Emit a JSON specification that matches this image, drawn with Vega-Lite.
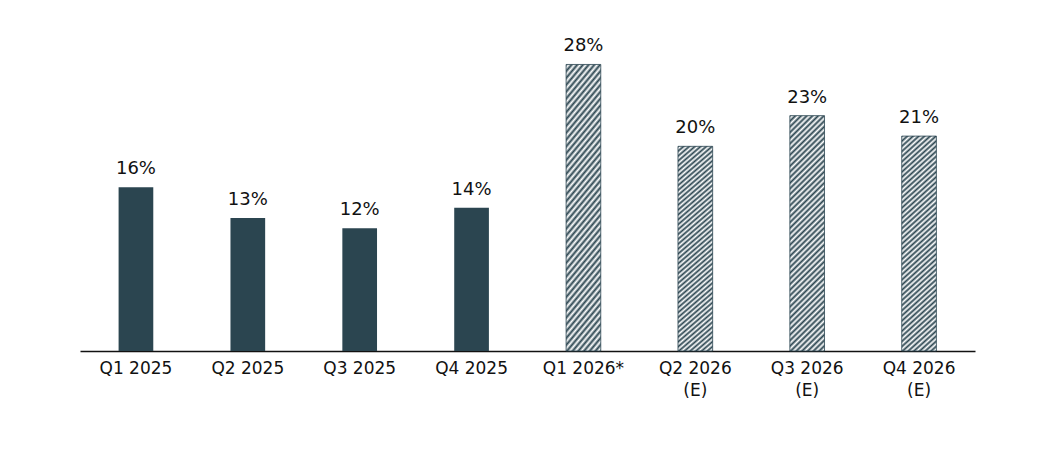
{
  "$schema": "https://vega.github.io/schema/vega-lite/v6.json",
  "width": 895,
  "height": 307,
  "autosize": "none",
  "padding": {"left": 80, "top": 44, "right": 87, "bottom": 105},
  "background": "white",
  "config": {"view": {"stroke": null}, "font": "DejaVu Sans"},
  "data": {
    "values": [
      {"q": "Q1 2025", "v": 16, "kind": "actual"},
      {"q": "Q2 2025", "v": 13, "kind": "actual"},
      {"q": "Q3 2025", "v": 12, "kind": "actual"},
      {"q": "Q4 2025", "v": 14, "kind": "actual"},
      {"q": "Q1 2026*", "v": 28, "kind": "est"},
      {"q": "Q2 2026\n(E)", "v": 20, "kind": "est"},
      {"q": "Q3 2026\n(E)", "v": 23, "kind": "est"},
      {"q": "Q4 2026\n(E)", "v": 21, "kind": "est"}
    ]
  },
  "encoding": {
    "x": {
      "field": "q", "type": "nominal", "sort": null, "title": null,
      "scale": {"paddingInner": 0.69, "paddingOuter": 0.345},
      "axis": {"labelAngle": 0, "labelFontSize": 17, "labelColor": "#111", "ticks": false, "domainColor": "#111", "domainWidth": 1.5, "labelPadding": 9, "labelExpr": "split(datum.label, '\\n')", "labelLineHeight": 22}
    },
    "y": {"field": "v", "type": "quantitative", "scale": {"domain": [0, 30]}, "axis": null}
  },
  "layer": [
    {
      "transform": [{"filter": "datum.kind == 'actual'"}],
      "mark": {"type": "bar", "color": "#2b4550"}
    },
    {
      "transform": [{"filter": "datum.kind == 'est'"}],
      "mark": {
        "type": "bar", "stroke": "#2b4550", "strokeWidth": 0.8,
        "color": {
          "gradient": "linear", "x1": 0, "y1": 0, "x2": 0.17, "y2": 1.17,
          "stops": [
            {"offset": 0.00, "color": "#2b4550"}, {"offset": 0.01, "color": "#ffffff"},
            {"offset": 0.02, "color": "#2b4550"}, {"offset": 0.03, "color": "#ffffff"},
            {"offset": 0.04, "color": "#2b4550"}, {"offset": 0.05, "color": "#ffffff"},
            {"offset": 0.06, "color": "#2b4550"}, {"offset": 0.07, "color": "#ffffff"},
            {"offset": 0.08, "color": "#2b4550"}, {"offset": 0.09, "color": "#ffffff"},
            {"offset": 0.10, "color": "#2b4550"}, {"offset": 0.11, "color": "#ffffff"},
            {"offset": 0.12, "color": "#2b4550"}, {"offset": 0.13, "color": "#ffffff"},
            {"offset": 0.14, "color": "#2b4550"}, {"offset": 0.15, "color": "#ffffff"},
            {"offset": 0.16, "color": "#2b4550"}, {"offset": 0.17, "color": "#ffffff"},
            {"offset": 0.18, "color": "#2b4550"}, {"offset": 0.19, "color": "#ffffff"},
            {"offset": 0.20, "color": "#2b4550"}, {"offset": 0.21, "color": "#ffffff"},
            {"offset": 0.22, "color": "#2b4550"}, {"offset": 0.23, "color": "#ffffff"},
            {"offset": 0.24, "color": "#2b4550"}, {"offset": 0.25, "color": "#ffffff"},
            {"offset": 0.26, "color": "#2b4550"}, {"offset": 0.27, "color": "#ffffff"},
            {"offset": 0.28, "color": "#2b4550"}, {"offset": 0.29, "color": "#ffffff"},
            {"offset": 0.30, "color": "#2b4550"}, {"offset": 0.31, "color": "#ffffff"},
            {"offset": 0.32, "color": "#2b4550"}, {"offset": 0.33, "color": "#ffffff"},
            {"offset": 0.34, "color": "#2b4550"}, {"offset": 0.35, "color": "#ffffff"},
            {"offset": 0.36, "color": "#2b4550"}, {"offset": 0.37, "color": "#ffffff"},
            {"offset": 0.38, "color": "#2b4550"}, {"offset": 0.39, "color": "#ffffff"},
            {"offset": 0.40, "color": "#2b4550"}, {"offset": 0.41, "color": "#ffffff"},
            {"offset": 0.42, "color": "#2b4550"}, {"offset": 0.43, "color": "#ffffff"},
            {"offset": 0.44, "color": "#2b4550"}, {"offset": 0.45, "color": "#ffffff"},
            {"offset": 0.46, "color": "#2b4550"}, {"offset": 0.47, "color": "#ffffff"},
            {"offset": 0.48, "color": "#2b4550"}, {"offset": 0.49, "color": "#ffffff"},
            {"offset": 0.50, "color": "#2b4550"}, {"offset": 0.51, "color": "#ffffff"},
            {"offset": 0.52, "color": "#2b4550"}, {"offset": 0.53, "color": "#ffffff"},
            {"offset": 0.54, "color": "#2b4550"}, {"offset": 0.55, "color": "#ffffff"},
            {"offset": 0.56, "color": "#2b4550"}, {"offset": 0.57, "color": "#ffffff"},
            {"offset": 0.58, "color": "#2b4550"}, {"offset": 0.59, "color": "#ffffff"},
            {"offset": 0.60, "color": "#2b4550"}, {"offset": 0.61, "color": "#ffffff"},
            {"offset": 0.62, "color": "#2b4550"}, {"offset": 0.63, "color": "#ffffff"},
            {"offset": 0.64, "color": "#2b4550"}, {"offset": 0.65, "color": "#ffffff"},
            {"offset": 0.66, "color": "#2b4550"}, {"offset": 0.67, "color": "#ffffff"},
            {"offset": 0.68, "color": "#2b4550"}, {"offset": 0.69, "color": "#ffffff"},
            {"offset": 0.70, "color": "#2b4550"}, {"offset": 0.71, "color": "#ffffff"},
            {"offset": 0.72, "color": "#2b4550"}, {"offset": 0.73, "color": "#ffffff"},
            {"offset": 0.74, "color": "#2b4550"}, {"offset": 0.75, "color": "#ffffff"},
            {"offset": 0.76, "color": "#2b4550"}, {"offset": 0.77, "color": "#ffffff"},
            {"offset": 0.78, "color": "#2b4550"}, {"offset": 0.79, "color": "#ffffff"},
            {"offset": 0.80, "color": "#2b4550"}, {"offset": 0.81, "color": "#ffffff"},
            {"offset": 0.82, "color": "#2b4550"}, {"offset": 0.83, "color": "#ffffff"},
            {"offset": 0.84, "color": "#2b4550"}, {"offset": 0.85, "color": "#ffffff"},
            {"offset": 0.86, "color": "#2b4550"}, {"offset": 0.87, "color": "#ffffff"},
            {"offset": 0.88, "color": "#2b4550"}, {"offset": 0.89, "color": "#ffffff"},
            {"offset": 0.90, "color": "#2b4550"}, {"offset": 0.91, "color": "#ffffff"},
            {"offset": 0.92, "color": "#2b4550"}, {"offset": 0.93, "color": "#ffffff"},
            {"offset": 0.94, "color": "#2b4550"}, {"offset": 0.95, "color": "#ffffff"},
            {"offset": 0.96, "color": "#2b4550"}, {"offset": 0.97, "color": "#ffffff"},
            {"offset": 0.98, "color": "#2b4550"}, {"offset": 0.99, "color": "#ffffff"},
            {"offset": 1.00, "color": "#ffffff"}
          ]
        }
      }
    },
    {
      "transform": [{"calculate": "datum.v + '%'", "as": "lbl"}],
      "mark": {"type": "text", "baseline": "bottom", "dy": -9, "fontSize": 18, "color": "#111"},
      "encoding": {"text": {"field": "lbl", "type": "nominal"}}
    }
  ]
}
